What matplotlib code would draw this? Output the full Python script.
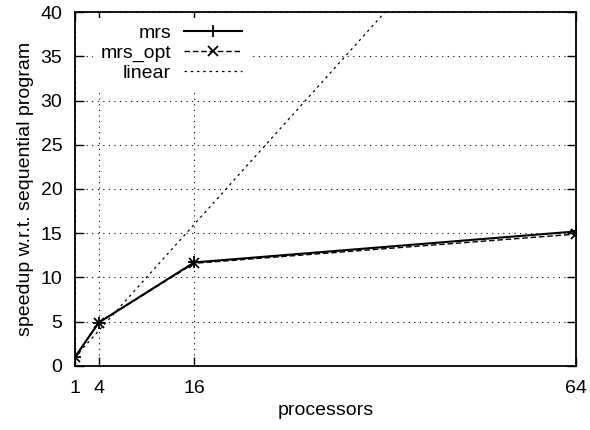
import matplotlib
matplotlib.use("Agg")
import matplotlib.pyplot as plt

plt.rcParams['font.family'] = ['Liberation Sans', 'DejaVu Sans']

# data
procs = [1, 4, 16, 64]
mrs = [1.0, 4.9, 11.7, 15.2]
mrs_opt = [1.0, 4.9, 11.6, 14.9]
linear_x = [1, 64]
y_ticks = [0, 5, 10, 15, 20, 25, 30, 35, 40]

fig = plt.figure(figsize=(5.9, 4.3), dpi=100)
ax = fig.add_axes([0.127, 0.149, 0.849, 0.823])

ax.plot(procs, mrs, color='black', lw=1.5, marker='+', ms=9, mew=1.3, label='mrs', zorder=4)
ax.plot(procs, mrs_opt, color='black', lw=1.0, ls=(0, (4, 2)), marker='x', ms=7, mew=1.3,
        label='mrs_opt', zorder=3)
ax.plot(linear_x, linear_x, color='black', lw=0.9, ls=(0, (2, 3)), label='linear', zorder=2)

ax.set_xlim(1, 64)
ax.set_ylim(0, 40)
ax.set_xticks(procs)
ax.set_yticks(y_ticks)
ax.grid(True, color='black', lw=0.8, ls=(0, (1, 4)))
ax.tick_params(direction='in', top=True, right=True, length=6.5, width=1, labelsize=14)
ax.tick_params(axis='x', pad=10)
ax.tick_params(axis='y', pad=9)
for s in ax.spines.values():
    s.set_linewidth(1.3)

ax.set_xlabel('processors', fontsize=14, labelpad=4)
ax.set_ylabel('speedup w.r.t. sequential program', fontsize=14, labelpad=5)

# legend: labels right-aligned, samples on the right, opaque box without edge
leg = ax.legend(loc='upper left', bbox_to_anchor=(0.037, 0.984), markerfirst=False,
                frameon=True, fancybox=False, edgecolor='none', facecolor='white',
                framealpha=1, fontsize=14, handlelength=3.0, borderaxespad=0,
                labelspacing=0.12, handletextpad=0.65, borderpad=0.35)
leg.set_zorder(5)

fig.savefig('out.png', dpi=100)
